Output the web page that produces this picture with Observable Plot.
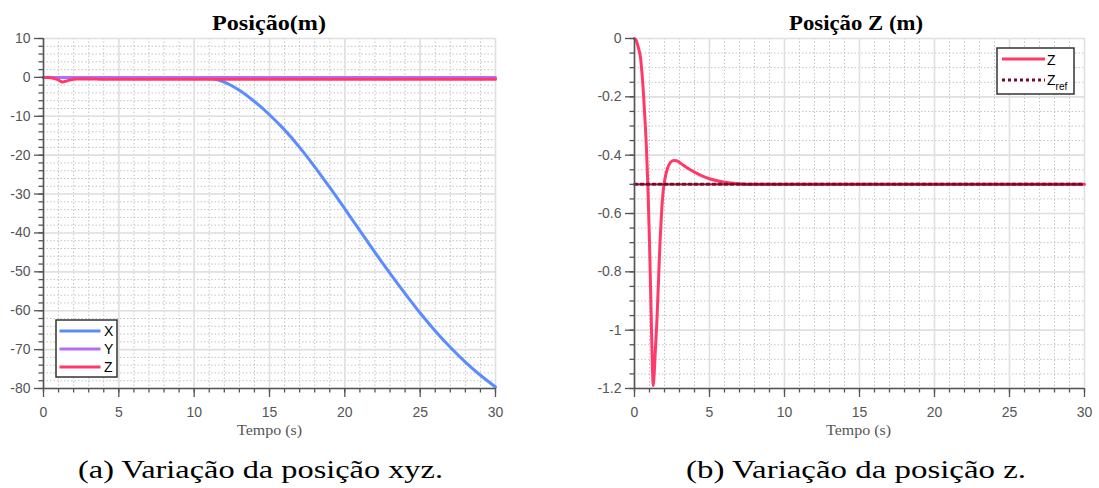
<!DOCTYPE html>
<html>
<head>
<meta charset="utf-8">
<script src="https://cdn.jsdelivr.net/npm/d3@7"></script>
<script src="https://cdn.jsdelivr.net/npm/@observablehq/plot@0.6"></script>
<style>
  html, body { margin: 0; padding: 0; background: #fff; }
  #wrap { position: relative; width: 1099px; height: 488px; overflow: hidden; background: #fff; }
  #left, #right, #overlay { position: absolute; top: 0; }
  #left { left: 0; }
  #right { left: 549px; }
  #overlay { left: 0; pointer-events: none; }
</style>
</head>
<body>
<div id="wrap">
  <div id="left"></div>
  <div id="right"></div>
  <svg id="overlay" width="1099" height="488"></svg>
</div>
<script>
// ---------- data ----------
// Z position (m) vs time (s)
const tZ = [0, 0.1, 0.2, 0.3, 0.4, 0.5, 0.6, 0.7, 0.8, 0.9, 1.0, 1.1, 1.2, 1.25, 1.3, 1.4, 1.5, 1.6, 1.7, 1.8, 1.9, 2.0, 2.2, 2.4, 2.6, 2.8, 3.0, 3.5, 4.0, 4.5, 5, 6, 7, 8, 10, 15, 20, 25, 30];
const zVals = [0, -0.005, -0.02, -0.04, -0.065, -0.12, -0.19, -0.28, -0.38, -0.52, -0.70, -0.92, -1.14, -1.19, -1.16, -1.06, -0.96, -0.83, -0.70, -0.60, -0.53, -0.49, -0.445, -0.425, -0.418, -0.419, -0.425, -0.443, -0.458, -0.471, -0.481, -0.493, -0.498, -0.5, -0.5, -0.5, -0.5, -0.5, -0.5];
// X position
const tX = [0, 5, 10, 10.5, 11, 11.5, 12, 13, 14, 15, 16, 17, 18, 19, 20, 21, 22, 23, 24, 25, 26, 27, 28, 29, 30];
const xVals = [0, 0, 0, 0, -0.15, -0.55, -1.2, -3.3, -6.2, -9.6, -13.5, -18.0, -23.0, -28.3, -33.8, -39.4, -45.0, -50.4, -55.6, -60.6, -65.2, -69.4, -73.2, -76.6, -79.6];
// Y position
const tY = [0, 30];
const yVals = [0, 0];
// Z reference
const tRef = [0, 30];
const zRef = [-0.5, -0.5];

// ticks
const xMajor = [0, 5, 10, 15, 20, 25, 30];
const xMinor = d3.range(0, 31, 1);
const yMajorL = [10, 0, -10, -20, -30, -40, -50, -60, -70, -80];
const yMinorL = d3.range(-80, 11, 2);
const yMajorR = [0, -0.2, -0.4, -0.6, -0.8, -1, -1.2];
const yMinorR = d3.range(0, 25).map(i => -i * 0.05);

const colX = "#5b8cff";
const colY = "#b46cff";
const colZ = "#ff3a6a";
const colRef = "#7a0a26";

function panel(opts) {
  const {yDomain, yMajor, yMinor, marginLeft, marginRight, lines} = opts;
  return Plot.plot({
    width: opts.width, height: 450,
    marginLeft, marginRight, marginTop: 38, marginBottom: 62,
    x: {domain: [0, 30]},
    y: {domain: yDomain},
    style: {fontFamily: "'Liberation Sans', Arial, sans-serif", fontSize: "14px", color: "#555", background: "transparent"},
    marks: [
      Plot.gridX(xMinor, {stroke: "#c4c4c4", strokeOpacity: 1, strokeWidth: 1, strokeDasharray: "1.5,2"}),
      Plot.gridY(yMinor, {stroke: "#c4c4c4", strokeOpacity: 1, strokeWidth: 1, strokeDasharray: "1.5,2"}),
      Plot.gridX(xMajor, {stroke: "#e0e0e0", strokeOpacity: 1, strokeWidth: 1.6}),
      Plot.gridY(yMajor, {stroke: "#e0e0e0", strokeOpacity: 1, strokeWidth: 1.6}),
      ...lines,
      Plot.axisX(xMinor, {tickSize: 4.5, fill: null, label: null, stroke: "#555", strokeWidth: 1.3}),
      Plot.axisX(xMajor, {tickSize: 9, tickPadding: 10, label: null, stroke: "#555", strokeWidth: 1.3, fill: "#555", tickFormat: d => String(d)}),
      Plot.axisY(yMinor, {tickSize: 4.5, fill: null, label: null, stroke: "#555", strokeWidth: 1.3}),
      Plot.axisY(yMajor, {tickSize: 9, tickPadding: 4, label: null, stroke: "#555", strokeWidth: 1.3, fill: "#555", tickFormat: d => String(d)}),
      Plot.ruleX([0], {stroke: "#555", strokeWidth: 1.6}),
      Plot.ruleY([yDomain[0]], {stroke: "#555", strokeWidth: 1.6})
    ]
  });
}

const left = panel({
  width: 549, marginLeft: 43, marginRight: 54,
  yDomain: [-80, 10], yMajor: yMajorL, yMinor: yMinorL,
  lines: [
    Plot.line(xVals, {x: tX, y: xVals, stroke: colX, strokeWidth: 3, curve: "monotone-x"}),
    Plot.line(yVals, {x: tY, y: yVals, stroke: colY, strokeWidth: 3}),
    Plot.line(zVals, {x: tZ, y: zVals, stroke: colZ, strokeWidth: 3, curve: "monotone-x"})
  ]
});
document.getElementById("left").appendChild(left);

const right = panel({
  width: 550, marginLeft: 85, marginRight: 15,
  yDomain: [-1.2, 0], yMajor: yMajorR, yMinor: yMinorR,
  lines: [
    Plot.line(zVals, {x: tZ, y: zVals, stroke: colZ, strokeWidth: 3, curve: "monotone-x"}),
    Plot.line(zRef, {x: tRef, y: zRef, stroke: colRef, strokeWidth: 3, strokeDasharray: "3,3"})
  ]
});
document.getElementById("right").appendChild(right);

// ---------- overlay text: titles, axis labels, captions, legends ----------
const ov = d3.select("#overlay");
function txt(x, y, s, o) {
  const t = ov.append("text").attr("x", x).attr("y", y).text(s)
    .attr("font-family", o.family).attr("font-size", o.size)
    .attr("fill", o.fill || "#000").attr("font-weight", o.weight || "normal");
  if (o.len) t.attr("textLength", o.len).attr("lengthAdjust", "spacingAndGlyphs");
  if (o.anchor) t.attr("text-anchor", o.anchor);
  return t;
}
const serif = "'Liberation Serif', 'DejaVu Serif', serif";
const sans = "'Liberation Sans', Arial, sans-serif";

txt(212, 30, "Posição(m)", {family: serif, size: 22, weight: "bold", len: 114});
txt(789, 30, "Posição Z (m)", {family: serif, size: 22, weight: "bold", len: 134});
txt(237, 435, "Tempo (s)", {family: serif, size: 15, fill: "#555", len: 65});
txt(826, 435, "Tempo (s)", {family: serif, size: 15, fill: "#555", len: 65});
txt(78, 478, "(a) Variação da posição xyz.", {family: serif, size: 25, len: 365});
txt(686, 478, "(b) Variação da posição z.", {family: serif, size: 25, len: 340});

// left legend
ov.append("rect").attr("x", 56).attr("y", 320).attr("width", 61).attr("height", 57)
  .attr("fill", "#fff").attr("stroke", "#333").attr("stroke-width", 1.5);
[["X", colX, 331], ["Y", colY, 349], ["Z", colZ, 367]].forEach(([lab, c, y]) => {
  ov.append("line").attr("x1", 59.5).attr("x2", 100.5).attr("y1", y).attr("y2", y)
    .attr("stroke", c).attr("stroke-width", 3);
  txt(104, y + 5, lab, {family: sans, size: 14});
});

// right legend
ov.append("rect").attr("x", 997).attr("y", 48).attr("width", 77).attr("height", 46)
  .attr("fill", "#fff").attr("stroke", "#333").attr("stroke-width", 1.5);
ov.append("line").attr("x1", 1002).attr("x2", 1045).attr("y1", 59).attr("y2", 59)
  .attr("stroke", colZ).attr("stroke-width", 3);
txt(1047, 65, "Z", {family: sans, size: 14});
ov.append("line").attr("x1", 1002).attr("x2", 1045).attr("y1", 80).attr("y2", 80)
  .attr("stroke", colRef).attr("stroke-width", 3).attr("stroke-dasharray", "3,3");
const zr = txt(1047, 85, "Z", {family: sans, size: 14});
zr.append("tspan").attr("font-size", 10).attr("dy", 5).text("ref");
</script>
</body>
</html>
